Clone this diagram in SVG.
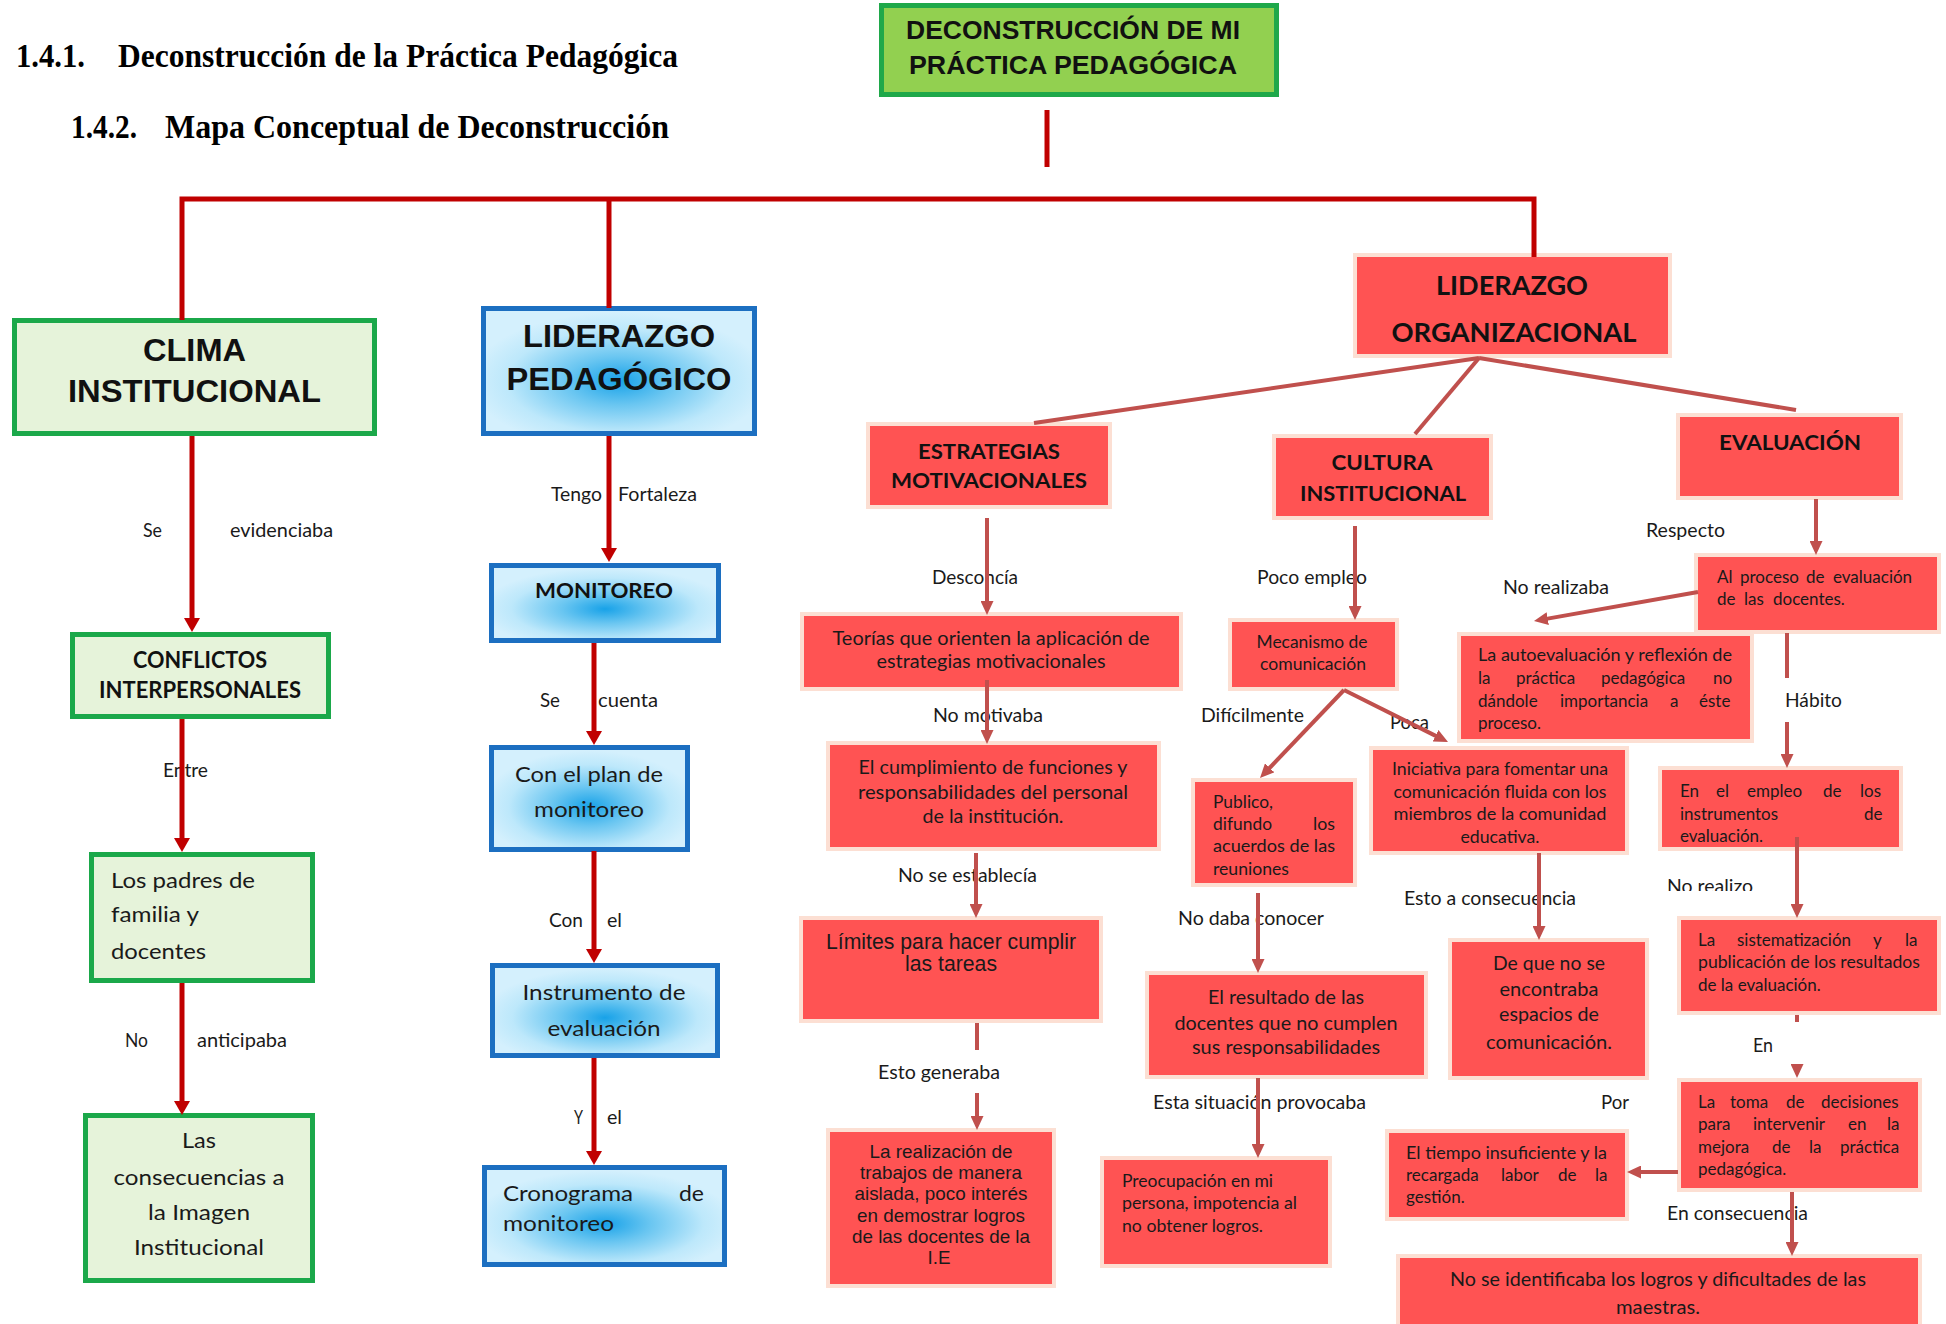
<svg xmlns="http://www.w3.org/2000/svg" width="1946" height="1324" viewBox="0 0 1946 1324">
<defs>
<style>
.hd{font-family:"Liberation Serif","Times New Roman",serif;font-weight:bold;font-size:34px;fill:#000}
.ab{font-family:"Liberation Sans",Arial,sans-serif;font-weight:bold;fill:#111}
.ar{font-family:"Liberation Sans",Arial,sans-serif;fill:#1a1a1a}
.lb{font-family:Lato,"Open Sans",sans-serif;font-weight:bold;fill:#111}
.l{font-family:Lato,"Open Sans",sans-serif;fill:#1a1a1a}
.lbl{font-family:Lato,"Open Sans",sans-serif;font-size:20px;fill:#1a1a1a}
.c{text-anchor:middle}
.e{text-anchor:end}
.rootbox{fill:#92d050;stroke:#1fa84a;stroke-width:5}
.g{fill:#e6f3da;stroke:#1ba84a;stroke-width:5}
.b{fill:url(#bg);stroke:#1c6fc1;stroke-width:5}
.r{fill:#ff5353;stroke:#fcdfd3;stroke-width:8;paint-order:stroke}
.cd{fill:none;stroke:#c00000;stroke-width:5}
.cm{fill:none;stroke:#c0504d;stroke-width:4}
</style>
<radialGradient id="bg" cx="50%" cy="58%" r="55%">
<stop offset="0" stop-color="#18a2e8"/>
<stop offset="0.35" stop-color="#6ac6f1"/>
<stop offset="0.75" stop-color="#bde8fb"/>
<stop offset="1" stop-color="#d4f0fd"/>
</radialGradient>
<marker id="ad" markerUnits="userSpaceOnUse" viewBox="0 0 14 16" markerWidth="14" markerHeight="16" refX="3" refY="8" orient="auto"><path d="M0,0 L14,8 L0,16 z" fill="#c00000"/></marker>
<marker id="am" markerUnits="userSpaceOnUse" viewBox="0 0 14 13" markerWidth="14" markerHeight="13" refX="3" refY="6.5" orient="auto"><path d="M0,0 L14,6.5 L0,13 z" fill="#c0504d"/></marker>
<clipPath id="clipNR"><rect x="1600" y="860" width="200" height="31"/></clipPath>
</defs>
<rect width="1946" height="1324" fill="#fff"/>

<g id="headings">
<text class="hd" x="16" y="67" textLength="69" lengthAdjust="spacingAndGlyphs">1.4.1.</text>
<text class="hd" x="118" y="67" textLength="560" lengthAdjust="spacingAndGlyphs">Deconstrucción de la Práctica Pedagógica</text>
<text class="hd" x="71" y="138" textLength="66" lengthAdjust="spacingAndGlyphs">1.4.2.</text>
<text class="hd" x="165" y="138" textLength="504" lengthAdjust="spacingAndGlyphs">Mapa Conceptual de Deconstrucción</text>
</g>

<g id="root">
<rect class="rootbox" x="881.5" y="5.5" width="395" height="89"/>
<text class="ab c" x="1073" y="39" font-size="26.5" textLength="334" lengthAdjust="spacingAndGlyphs">DECONSTRUCCIÓN DE MI</text>
<text class="ab c" x="1073" y="74" font-size="26.5" textLength="328" lengthAdjust="spacingAndGlyphs">PRÁCTICA PEDAGÓGICA</text>
</g>

<g id="clima">
<rect class="g" x="14.5" y="320.5" width="360" height="113"/>
<text class="ab c" x="194.5" y="361" font-size="32" textLength="103" lengthAdjust="spacingAndGlyphs">CLIMA</text>
<text class="ab c" x="194.5" y="402" font-size="32" textLength="253" lengthAdjust="spacingAndGlyphs">INSTITUCIONAL</text>
</g>
<g id="conflictos">
<rect class="g" x="72.5" y="634.5" width="256" height="82"/>
<text class="lb c" x="200" y="668" font-size="23.5" textLength="134" lengthAdjust="spacingAndGlyphs">CONFLICTOS</text>
<text class="lb c" x="200" y="698" font-size="23.5" textLength="202" lengthAdjust="spacingAndGlyphs">INTERPERSONALES</text>
</g>
<g id="padres">
<rect class="g" x="91.5" y="854.5" width="221" height="126"/>
<text class="l" x="111" y="888" font-size="20.5" textLength="144" lengthAdjust="spacingAndGlyphs">Los padres de</text>
<text class="l" x="111" y="922" font-size="20.5" textLength="88" lengthAdjust="spacingAndGlyphs">familia y</text>
<text class="l" x="111" y="959" font-size="20.5" textLength="95" lengthAdjust="spacingAndGlyphs">docentes</text>
</g>
<g id="consecuencias">
<rect class="g" x="85.5" y="1115.5" width="227" height="165"/>
<text class="l c" x="199" y="1148" font-size="20.5" textLength="34" lengthAdjust="spacingAndGlyphs">Las</text>
<text class="l c" x="199" y="1185" font-size="20.5" textLength="171" lengthAdjust="spacingAndGlyphs">consecuencias a</text>
<text class="l c" x="199" y="1220" font-size="20.5" textLength="102" lengthAdjust="spacingAndGlyphs">la Imagen</text>
<text class="l c" x="199" y="1255" font-size="20.5" textLength="130" lengthAdjust="spacingAndGlyphs">Institucional</text>
</g>

<g id="liderazgo-pedagogico">
<rect class="b" x="483.5" y="308.5" width="271" height="125"/>
<text class="ab c" x="619" y="347" font-size="32" textLength="192" lengthAdjust="spacingAndGlyphs">LIDERAZGO</text>
<text class="ab c" x="619" y="390" font-size="32" textLength="225" lengthAdjust="spacingAndGlyphs">PEDAGÓGICO</text>
</g>
<g id="monitoreo">
<rect class="b" x="491.5" y="565.5" width="227" height="75"/>
<text class="lb c" x="604" y="598" font-size="21" textLength="138" lengthAdjust="spacingAndGlyphs">MONITOREO</text>
</g>
<g id="plan">
<rect class="b" x="491.5" y="747.5" width="196" height="102"/>
<text class="l c" x="589" y="782" font-size="20.5" textLength="148" lengthAdjust="spacingAndGlyphs">Con el plan de</text>
<text class="l c" x="589" y="817" font-size="20.5" textLength="110" lengthAdjust="spacingAndGlyphs">monitoreo</text>
</g>
<g id="instrumento">
<rect class="b" x="492.5" y="965.5" width="225" height="90"/>
<text class="l c" x="604" y="1000" font-size="20.5" textLength="163" lengthAdjust="spacingAndGlyphs">Instrumento de</text>
<text class="l c" x="604" y="1036" font-size="20.5" textLength="113" lengthAdjust="spacingAndGlyphs">evaluación</text>
</g>
<g id="cronograma">
<rect class="b" x="484.5" y="1167.5" width="240" height="97"/>
<text class="l" x="503" y="1201" font-size="20.5" textLength="130" lengthAdjust="spacingAndGlyphs">Cronograma</text>
<text class="l" x="679" y="1201" font-size="20.5" textLength="25" lengthAdjust="spacingAndGlyphs">de</text>
<text class="l" x="503" y="1231" font-size="20.5" textLength="111" lengthAdjust="spacingAndGlyphs">monitoreo</text>
</g>

<g id="liderazgo-organizacional">
<rect class="r" x="1357" y="257" width="311" height="97"/>
<text class="lb c" x="1512" y="295" font-size="27" textLength="152" lengthAdjust="spacingAndGlyphs">LIDERAZGO</text>
<text class="lb c" x="1514" y="342" font-size="27" textLength="245" lengthAdjust="spacingAndGlyphs">ORGANIZACIONAL</text>
</g>
<g id="estrategias">
<rect class="r" x="870" y="426" width="238" height="79"/>
<text class="lb c" x="989" y="459" font-size="21.5" textLength="142" lengthAdjust="spacingAndGlyphs">ESTRATEGIAS</text>
<text class="lb c" x="989" y="488" font-size="21.5" textLength="196" lengthAdjust="spacingAndGlyphs">MOTIVACIONALES</text>
</g>
<g id="cultura">
<rect class="r" x="1276" y="438" width="213" height="78"/>
<text class="lb c" x="1382" y="470" font-size="21.5" textLength="101" lengthAdjust="spacingAndGlyphs">CULTURA</text>
<text class="lb c" x="1383" y="501" font-size="21.5" textLength="166" lengthAdjust="spacingAndGlyphs">INSTITUCIONAL</text>
</g>
<g id="evaluacion">
<rect class="r" x="1680" y="417" width="219" height="79"/>
<text class="lb c" x="1790" y="450" font-size="21.5" textLength="142" lengthAdjust="spacingAndGlyphs">EVALUACIÓN</text>
</g>

<g id="teorias">
<rect class="r" x="804" y="616" width="375" height="71"/>
<text class="l c" x="991" y="645" font-size="19.5" textLength="317" lengthAdjust="spacingAndGlyphs">Teorías que orienten la aplicación de</text>
<text class="l c" x="991" y="668" font-size="19.5" textLength="229" lengthAdjust="spacingAndGlyphs">estrategias motivacionales</text>
</g>
<g id="cumplimiento">
<rect class="r" x="830" y="745" width="327" height="102"/>
<text class="l c" x="993" y="774" font-size="19.5" textLength="269" lengthAdjust="spacingAndGlyphs">El cumplimiento de funciones y</text>
<text class="l c" x="993" y="799" font-size="19.5" textLength="270" lengthAdjust="spacingAndGlyphs">responsabilidades del personal</text>
<text class="l c" x="993" y="823" font-size="19.5" textLength="141" lengthAdjust="spacingAndGlyphs">de la institución.</text>
</g>
<g id="limites">
<rect class="r" x="803" y="920" width="296" height="99"/>
<text class="ar c" x="951" y="949" font-size="22" textLength="250" lengthAdjust="spacingAndGlyphs">Límites para hacer cumplir</text>
<text class="ar c" x="951" y="971" font-size="22" textLength="92" lengthAdjust="spacingAndGlyphs">las tareas</text>
</g>
<g id="realizacion">
<rect class="r" x="830" y="1132" width="222" height="152"/>
<text class="ar c" x="941" y="1158" font-size="19" textLength="143" lengthAdjust="spacingAndGlyphs">La realización de</text>
<text class="ar c" x="941" y="1179" font-size="19" textLength="162" lengthAdjust="spacingAndGlyphs">trabajos de manera</text>
<text class="ar c" x="941" y="1200" font-size="19" textLength="173" lengthAdjust="spacingAndGlyphs">aislada, poco interés</text>
<text class="ar c" x="941" y="1222" font-size="19" textLength="168" lengthAdjust="spacingAndGlyphs">en demostrar logros</text>
<text class="ar c" x="941" y="1243" font-size="19" textLength="178" lengthAdjust="spacingAndGlyphs">de las docentes de la</text>
<text class="ar c" x="939" y="1264" font-size="19" textLength="23" lengthAdjust="spacingAndGlyphs">I.E</text>
</g>

<g id="mecanismo">
<rect class="r" x="1232" y="622" width="163" height="65"/>
<text class="l c" x="1312" y="648" font-size="18" textLength="111" lengthAdjust="spacingAndGlyphs">Mecanismo de</text>
<text class="l c" x="1313" y="670" font-size="18" textLength="106" lengthAdjust="spacingAndGlyphs">comunicación</text>
</g>
<g id="publico">
<rect class="r" x="1195" y="782" width="158" height="101"/>
<text class="l" x="1213" y="808" font-size="17.5" textLength="60" lengthAdjust="spacingAndGlyphs">Publico,</text>
<text class="l" x="1213" y="830" font-size="17.5" textLength="59" lengthAdjust="spacingAndGlyphs">difundo</text>
<text class="l e" x="1335" y="830" font-size="17.5" textLength="22" lengthAdjust="spacingAndGlyphs">los</text>
<text class="l" x="1213" y="852" font-size="17.5" textLength="122" lengthAdjust="spacingAndGlyphs">acuerdos de las</text>
<text class="l" x="1213" y="875" font-size="17.5" textLength="76" lengthAdjust="spacingAndGlyphs">reuniones</text>
</g>
<g id="resultado">
<rect class="r" x="1149" y="975" width="275" height="100"/>
<text class="l c" x="1286" y="1004" font-size="19.5" textLength="156" lengthAdjust="spacingAndGlyphs">El resultado de las</text>
<text class="l c" x="1286" y="1030" font-size="19.5" textLength="223" lengthAdjust="spacingAndGlyphs">docentes que no cumplen</text>
<text class="l c" x="1286" y="1054" font-size="19.5" textLength="188" lengthAdjust="spacingAndGlyphs">sus responsabilidades</text>
</g>
<g id="preocupacion">
<rect class="r" x="1104" y="1160" width="224" height="104"/>
<text class="l" x="1122" y="1187" font-size="17.5" textLength="151" lengthAdjust="spacingAndGlyphs">Preocupación en mi</text>
<text class="l" x="1122" y="1209" font-size="17.5" textLength="175" lengthAdjust="spacingAndGlyphs">persona, impotencia al</text>
<text class="l" x="1122" y="1232" font-size="17.5" textLength="141" lengthAdjust="spacingAndGlyphs">no obtener logros.</text>
</g>
<g id="iniciativa">
<rect class="r" x="1373" y="750" width="252" height="101"/>
<text class="l c" x="1500" y="775" font-size="17" textLength="216" lengthAdjust="spacingAndGlyphs">Iniciativa para fomentar una</text>
<text class="l c" x="1500" y="798" font-size="17" textLength="213" lengthAdjust="spacingAndGlyphs">comunicación fluida con los</text>
<text class="l c" x="1500" y="820" font-size="17" textLength="213" lengthAdjust="spacingAndGlyphs">miembros  de la comunidad</text>
<text class="l c" x="1500" y="843" font-size="17" textLength="79" lengthAdjust="spacingAndGlyphs">educativa.</text>
</g>
<g id="espacios">
<rect class="r" x="1452" y="942" width="193" height="134"/>
<text class="l c" x="1549" y="970" font-size="19.5" textLength="112" lengthAdjust="spacingAndGlyphs">De que no se</text>
<text class="l c" x="1549" y="996" font-size="19.5" textLength="99" lengthAdjust="spacingAndGlyphs">encontraba</text>
<text class="l c" x="1549" y="1021" font-size="19.5" textLength="100" lengthAdjust="spacingAndGlyphs">espacios de</text>
<text class="l c" x="1549" y="1049" font-size="19.5" textLength="126" lengthAdjust="spacingAndGlyphs">comunicación.</text>
</g>

<g id="al-proceso">
<rect class="r" x="1698" y="557" width="239" height="73"/>
<text class="l" y="583" font-size="17"><tspan x="1717">Al</tspan><tspan x="1740">proceso</tspan><tspan x="1806">de</tspan><tspan x="1833">evaluación</tspan></text>
<text class="l" y="605" font-size="17"><tspan x="1717">de</tspan><tspan x="1744">las</tspan><tspan x="1773">docentes.</tspan></text>
</g>
<g id="autoevaluacion">
<rect class="r" x="1461" y="636" width="289" height="103"/>
<text class="l" x="1478" y="661" font-size="17" textLength="254" lengthAdjust="spacingAndGlyphs">La autoevaluación y reflexión de</text>
<text class="l" y="684" font-size="17"><tspan x="1478">la</tspan><tspan x="1516">práctica</tspan><tspan x="1601">pedagógica</tspan><tspan x="1713">no</tspan></text>
<text class="l" y="707" font-size="17"><tspan x="1478">dándole</tspan><tspan x="1560">importancia</tspan><tspan x="1670">a</tspan><tspan x="1699">éste</tspan></text>
<text class="l" x="1478" y="729" font-size="17">proceso.</text>
</g>
<g id="empleo">
<rect class="r" x="1662" y="770" width="237" height="77"/>
<text class="l" y="797" font-size="17"><tspan x="1680">En</tspan><tspan x="1716">el</tspan><tspan x="1747">empleo</tspan><tspan x="1823">de</tspan><tspan x="1860">los</tspan></text>
<text class="l" y="820" font-size="17"><tspan x="1680">instrumentos</tspan><tspan x="1864">de</tspan></text>
<text class="l" x="1680" y="842" font-size="17">evaluación.</text>
</g>
<g id="sistematizacion">
<rect class="r" x="1681" y="920" width="256" height="91"/>
<text class="l" y="946" font-size="17"><tspan x="1698">La</tspan><tspan x="1737">sistematización</tspan><tspan x="1873">y</tspan><tspan x="1905">la</tspan></text>
<text class="l" x="1698" y="968" font-size="17" textLength="222" lengthAdjust="spacingAndGlyphs">publicación de los resultados</text>
<text class="l" x="1698" y="991" font-size="17">de la evaluación.</text>
</g>
<g id="toma-decisiones">
<rect class="r" x="1681" y="1082" width="237" height="106"/>
<text class="l" y="1108" font-size="17"><tspan x="1698">La</tspan><tspan x="1730">toma</tspan><tspan x="1786">de</tspan><tspan x="1821">decisiones</tspan></text>
<text class="l" y="1130" font-size="17"><tspan x="1698">para</tspan><tspan x="1753">intervenir</tspan><tspan x="1848">en</tspan><tspan x="1887">la</tspan></text>
<text class="l" y="1153" font-size="17"><tspan x="1698">mejora</tspan><tspan x="1772">de</tspan><tspan x="1809">la</tspan><tspan x="1840">práctica</tspan></text>
<text class="l" x="1698" y="1175" font-size="17">pedagógica.</text>
</g>
<g id="tiempo">
<rect class="r" x="1389" y="1133" width="236" height="84"/>
<text class="l" x="1406" y="1159" font-size="17" textLength="201" lengthAdjust="spacingAndGlyphs">El tiempo insuficiente y la</text>
<text class="l" y="1181" font-size="17"><tspan x="1406">recargada</tspan><tspan x="1501">labor</tspan><tspan x="1558">de</tspan><tspan x="1595">la</tspan></text>
<text class="l" x="1406" y="1203" font-size="17">gestión.</text>
</g>
<g id="logros">
<rect class="r" x="1400" y="1258" width="518" height="70"/>
<text class="l c" x="1658" y="1286" font-size="19.5" textLength="416" lengthAdjust="spacingAndGlyphs">No se identificaba los logros y dificultades de las</text>
<text class="l c" x="1658" y="1314" font-size="19.5" textLength="84" lengthAdjust="spacingAndGlyphs">maestras.</text>
</g>

<g id="labels">
<text class="lbl" x="143" y="537" textLength="19" lengthAdjust="spacingAndGlyphs">Se</text>
<text class="lbl" x="230" y="537" textLength="103" lengthAdjust="spacingAndGlyphs">evidenciaba</text>
<text class="lbl" x="163" y="777" textLength="45" lengthAdjust="spacingAndGlyphs">Entre</text>
<text class="lbl" x="125" y="1047" textLength="23" lengthAdjust="spacingAndGlyphs">No</text>
<text class="lbl" x="197" y="1047" textLength="90" lengthAdjust="spacingAndGlyphs">anticipaba</text>
<text class="lbl" x="551" y="501" textLength="51" lengthAdjust="spacingAndGlyphs">Tengo</text>
<text class="lbl" x="618" y="501" textLength="79" lengthAdjust="spacingAndGlyphs">Fortaleza</text>
<text class="lbl" x="540" y="707" textLength="20" lengthAdjust="spacingAndGlyphs">Se</text>
<text class="lbl" x="598" y="707" textLength="60" lengthAdjust="spacingAndGlyphs">cuenta</text>
<text class="lbl" x="549" y="927" textLength="34" lengthAdjust="spacingAndGlyphs">Con</text>
<text class="lbl" x="607" y="927" textLength="15" lengthAdjust="spacingAndGlyphs">el</text>
<text class="lbl" x="574" y="1124" textLength="9" lengthAdjust="spacingAndGlyphs">Y</text>
<text class="lbl" x="607" y="1124" textLength="15" lengthAdjust="spacingAndGlyphs">el</text>
<text class="lbl" x="932" y="584" textLength="86" lengthAdjust="spacingAndGlyphs">Desconcía</text>
<text class="lbl" x="933" y="722" textLength="110" lengthAdjust="spacingAndGlyphs">No motivaba</text>
<text class="lbl" x="898" y="882" textLength="139" lengthAdjust="spacingAndGlyphs">No se establecía</text>
<text class="lbl" x="878" y="1079" textLength="122" lengthAdjust="spacingAndGlyphs">Esto generaba</text>
<text class="lbl" x="1257" y="584" textLength="110" lengthAdjust="spacingAndGlyphs">Poco empleo</text>
<text class="lbl" x="1201" y="722" textLength="103" lengthAdjust="spacingAndGlyphs">Difícilmente</text>
<text class="lbl" x="1390" y="729" textLength="39" lengthAdjust="spacingAndGlyphs">Poca</text>
<text class="lbl" x="1178" y="925" textLength="146" lengthAdjust="spacingAndGlyphs">No daba conocer</text>
<text class="lbl" x="1153" y="1109" textLength="213" lengthAdjust="spacingAndGlyphs">Esta situación provocaba</text>
<text class="lbl" x="1404" y="905" textLength="172" lengthAdjust="spacingAndGlyphs">Esto a consecuencia</text>
<text class="lbl" x="1646" y="537" textLength="79" lengthAdjust="spacingAndGlyphs">Respecto</text>
<text class="lbl" x="1503" y="594" textLength="106" lengthAdjust="spacingAndGlyphs">No realizaba</text>
<text class="lbl" x="1785" y="707" textLength="57" lengthAdjust="spacingAndGlyphs">Hábito</text>
<text class="lbl" x="1667" y="893" textLength="86" lengthAdjust="spacingAndGlyphs" clip-path="url(#clipNR)">No realizo</text>
<text class="lbl" x="1753" y="1052" textLength="20" lengthAdjust="spacingAndGlyphs">En</text>
<text class="lbl" x="1601" y="1109" textLength="28" lengthAdjust="spacingAndGlyphs">Por</text>
<text class="lbl" x="1667" y="1220" textLength="141" lengthAdjust="spacingAndGlyphs">En consecuencia</text>
</g>

<g id="connectors">
<path class="cd" d="M1047,110 V167"/>
<path class="cd" d="M182,320 V199 H1534 V257"/>
<path class="cd" d="M609,199 V308"/>
<path class="cd" d="M192,436 V621" marker-end="url(#ad)"/>
<path class="cd" d="M182,719 V841" marker-end="url(#ad)"/>
<path class="cd" d="M182,983 V1104" marker-end="url(#ad)"/>
<path class="cd" d="M609,436 V551" marker-end="url(#ad)"/>
<path class="cd" d="M594,643 V734" marker-end="url(#ad)"/>
<path class="cd" d="M594,851 V952" marker-end="url(#ad)"/>
<path class="cd" d="M594,1058 V1154" marker-end="url(#ad)"/>

<path class="cm" d="M1479,358 L1034,423"/>
<path class="cm" d="M1479,358 L1415,434"/>
<path class="cm" d="M1479,358 L1796,410"/>
<path class="cm" d="M987,518 V604" marker-end="url(#am)"/>
<path class="cm" d="M987,680 V733" marker-end="url(#am)"/>
<path class="cm" d="M976,853 V907" marker-end="url(#am)"/>
<path class="cm" d="M977,1023 V1050"/>
<path class="cm" d="M977,1093 V1119" marker-end="url(#am)"/>
<path class="cm" d="M1355,526 V609" marker-end="url(#am)"/>
<path class="cm" d="M1344,690 L1267.6,770" marker-end="url(#am)"/>
<path class="cm" d="M1344,690 L1438.2,737.1" marker-end="url(#am)"/>
<path class="cm" d="M1258,893 V962" marker-end="url(#am)"/>
<path class="cm" d="M1258,1078 V1147" marker-end="url(#am)"/>
<path class="cm" d="M1539,853 V929" marker-end="url(#am)"/>
<path class="cm" d="M1816,499 V544" marker-end="url(#am)"/>
<path class="cm" d="M1698,592 L1544.8,619.1" marker-end="url(#am)"/>
<path class="cm" d="M1787,633 V678"/>
<path class="cm" d="M1787,722 V757" marker-end="url(#am)"/>
<path class="cm" d="M1797,837 V907" marker-end="url(#am)"/>
<path class="cm" d="M1797,1015 V1022"/>
<path class="cm" d="M1797,1064 V1067" marker-end="url(#am)"/>
<path class="cm" d="M1678,1172 H1638" marker-end="url(#am)"/>
<path class="cm" d="M1792,1192 V1245" marker-end="url(#am)"/>
</g>
</svg>
